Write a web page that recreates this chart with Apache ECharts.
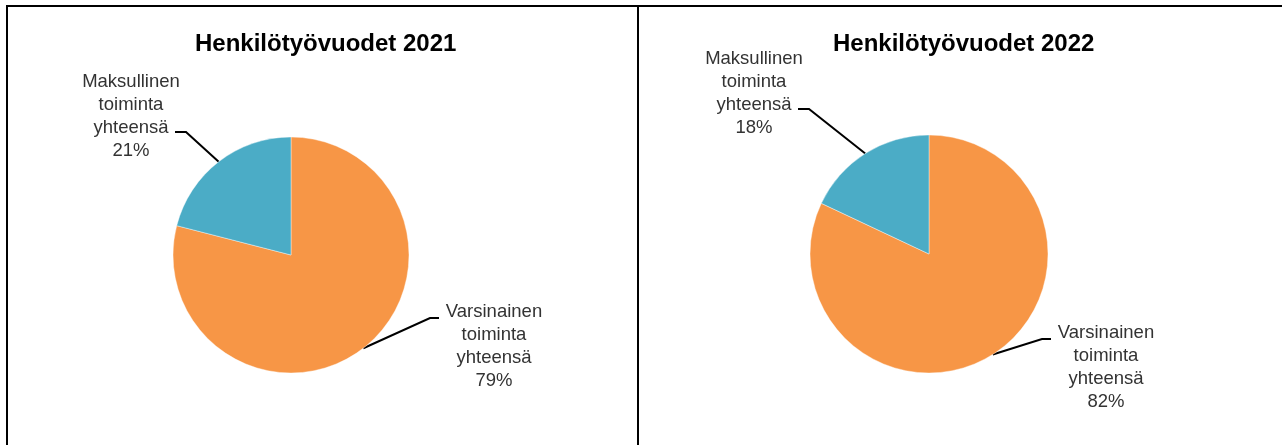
<!DOCTYPE html>
<html>
<head>
<meta charset="utf-8">
<title>Henkilötyövuodet</title>
<script src="https://cdn.jsdelivr.net/npm/echarts@6/dist/echarts.min.js"></script>
<style>
  html, body { margin: 0; padding: 0; background: #fff; }
  #wrap { position: relative; width: 1282px; height: 445px; overflow: hidden; }
  #chart { position: absolute; left: 0; top: 0; width: 1282px; height: 445px; }
  .ln { position: absolute; background: #000; }
</style>
</head>
<body>
<div id="wrap">
  <div id="chart"></div>
  <!-- kehykset -->
  <div class="ln" style="left:6px; top:5px; width:1276px; height:2px;"></div>
  <div class="ln" style="left:6px; top:5px; width:2px; height:440px;"></div>
  <div class="ln" style="left:637px; top:5px; width:2px; height:440px;"></div>
</div>
<script>
// data
const years = ['2021', '2022'];
const categories = ['Varsinainen toiminta yhteensä', 'Maksullinen toiminta yhteensä'];
const values2021 = [79, 21];
const values2022 = [82, 18];
const colors = ['#F79646', '#4BACC6'];

// layout
const pieCenters = [[291, 255], [929, 254]];
const pieRadius = [118, 119];
const titleLeft = [190, 828];
// label block centres, per series: [orange, blue]
const labelPos = [
  [[494, 346], [131, 116]],
  [[1106, 367], [754, 93]]
];

const fontFamily = '"Liberation Sans", Arial, sans-serif';

function makeData(values) {
  return categories.map(function (name, i) {
    return { name: name, value: values[i], itemStyle: { color: colors[i] } };
  });
}

function pieSeries(idx, values) {
  return {
    type: 'pie',
    center: pieCenters[idx],
    radius: pieRadius[idx],
    startAngle: 90,
    clockwise: true,
    animation: false,
    silent: true,
    itemStyle: { borderColor: '#fff', borderWidth: 0.4 },
    label: {
      show: true,
      position: 'outside',
      color: '#333',
      fontFamily: fontFamily,
      fontSize: 18.5,
      lineHeight: 23,
      align: 'center',
      formatter: function (p) {
        return p.name.split(' ').join('\n') + '\n' + Math.round(p.percent) + '%';
      }
    },
    labelLine: {
      show: true,
      lineStyle: { color: '#000', width: 2 }
    },
    labelLayout: function (p) {
      const pos = labelPos[idx][p.dataIndex];
      const x = pos[0], y = pos[1];
      // right-side labels get the line on their left, left-side on their right
      let end, corner;
      if (p.dataIndex === 0) {
        end = [x - 55, y - 28];
        corner = [x - 64, y - 28];
      } else {
        end = [x + 44, y + 16];
        corner = [x + 55, y + 16];
      }
      const start = (p.labelLinePoints && p.labelLinePoints[0]) || corner;
      return {
        x: x,
        y: y,
        align: 'center',
        verticalAlign: 'middle',
        labelLinePoints: [start, corner, end]
      };
    },
    data: makeData(values)
  };
}

const myChart = echarts.init(document.getElementById('chart'));
myChart.setOption({
  animation: false,
  title: years.map(function (y, i) {
    return {
      text: 'Henkilötyövuodet ' + y,
      left: titleLeft[i],
      top: 27,
      textStyle: { fontFamily: fontFamily, fontSize: 24, fontWeight: 'bold', color: '#000' }
    };
  }),
  series: [pieSeries(0, values2021), pieSeries(1, values2022)]
});
</script>
</body>
</html>
